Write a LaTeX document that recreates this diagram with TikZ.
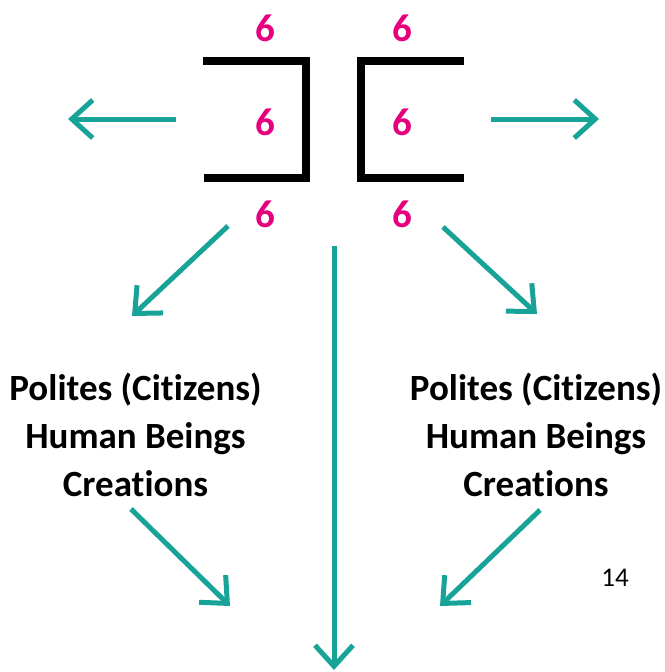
\documentclass[tikz,border=0pt]{standalone}
\usepackage{fontspec}
\setmainfont{Carlito}[Ligatures={NoCommon}]
\usetikzlibrary{arrows.meta}
\definecolor{teal1}{RGB}{24,163,152}
\definecolor{pink1}{RGB}{230,0,126}
\tikzset{
  arr/.style={draw=teal1, line width=5pt, line cap=butt,
    -{Straight Barb[length=21pt,width=38pt,line cap=butt,line join=miter]}},
  brk/.style={draw=black, line width=8pt, line cap=butt, line join=miter},
  six/.style={text=pink1, font=\fontsize{39}{40}\selectfont\bfseries, anchor=base, inner sep=0pt},
  lbl/.style={text=black, font=\fontsize{37}{45}\selectfont\bfseries, anchor=base, inner sep=0pt},
  pnum/.style={text=black, font=\fontsize{27}{30}\selectfont, anchor=base, inner sep=0pt}
}
\begin{document}
\begin{tikzpicture}[x=1pt,y=-1pt]
\useasboundingbox (0,0) rectangle (664,672);
% brackets
\draw[brk] (203,60.5) -- (306,60.5) -- (306,178) -- (204,178);
\draw[brk] (464,60.5) -- (361,60.5) -- (361,178) -- (464,178);
% sixes
\node[six] (s1) at (265,41) {6};
\node[six] (s2) at (265,135) {6};
\node[six] (s3) at (265,227) {6};
\node[six] (s4) at (402.5,41) {6};
\node[six] (s5) at (402.5,135) {6};
\node[six] (s6) at (402.5,227) {6};
% text blocks
\node[lbl] (l1) at (135.5,400) {Polites (Citizens)};
\node[lbl] (l2) at (135.5,448) {Human Beings};
\node[lbl] (l3) at (135.5,496) {Creations};
\node[lbl] (r1) at (536,400) {Polites (Citizens)};
\node[lbl] (r2) at (536,448) {Human Beings};
\node[lbl] (r3) at (536,496) {Creations};
\node[pnum] (pg) at (615,586) {14};
% arrow coordinates
\coordinate (a1s) at (176,119); \coordinate (a1e) at (68,119);
\coordinate (a2s) at (491,119); \coordinate (a2e) at (599,119);
\coordinate (a3s) at (228,226); \coordinate (a3e) at (132,316);
\coordinate (a4s) at (443,227); \coordinate (a4e) at (537,314);
\coordinate (a5s) at (334,246); \coordinate (a5e) at (334,670);
\coordinate (a6s) at (131,509); \coordinate (a6e) at (230,606);
\coordinate (a7s) at (540,510); \coordinate (a7e) at (440,606);
\draw[arr] (a1s) -- (a1e);
\draw[arr] (a2s) -- (a2e);
\draw[arr] (a3s) -- (a3e);
\draw[arr] (a4s) -- (a4e);
\draw[arr] (a5s) -- (a5e);
\draw[arr] (a6s) -- (a6e);
\draw[arr] (a7s) -- (a7e);
\end{tikzpicture}
\end{document}
